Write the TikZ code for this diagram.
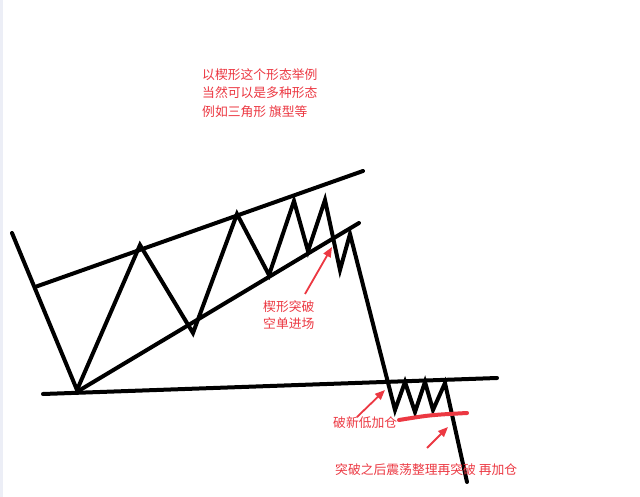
\documentclass[tikz,border=0pt]{standalone}
\usepackage{fontspec}
\newfontfamily\cjk{Noto Sans CJK SC}
\usetikzlibrary{arrows.meta}
\definecolor{noteRed}{RGB}{236,56,66}
\definecolor{edgeGray}{RGB}{236,238,246}
\tikzset{
  chart/.style={line width=4pt, black, line join=miter, line cap=round},
  note/.style={text=noteRed, font=\cjk\fontsize{12.8}{18.5}\selectfont, inner sep=0pt, anchor=west, align=left},
  pointer/.style={draw=noteRed, line width=1.8pt, -{Triangle[length=10pt,width=8pt]}},
  marker/.style={draw=noteRed, line width=4pt, line cap=round}
}
\begin{document}
\begin{tikzpicture}[x=1pt,y=-1pt]
\useasboundingbox (0,0) rectangle (640,497);
\fill[white] (0,0) rectangle (640,497);
\fill[edgeGray] (0,0) rectangle (3,497);

% price path points
\coordinate (p0) at (12,233);
\coordinate (p1) at (77,390);
\coordinate (p2) at (140,245);
\coordinate (p3) at (193,333);
\coordinate (p4) at (237,214);
\coordinate (p5) at (269,275);
\coordinate (p6) at (294,201);
\coordinate (p7) at (308,251);
\coordinate (p8) at (325,200);
\coordinate (p9) at (340,270);
\coordinate (p10) at (350,234);
\coordinate (p11) at (395,410);
\coordinate (p12) at (405,382);
\coordinate (p13) at (415,412);
\coordinate (p14) at (425,382);
\coordinate (p15) at (433,410);
\coordinate (p16) at (445,383);
\coordinate (p17) at (467,482);

% trend lines
\coordinate (u0) at (35,287);
\coordinate (u1) at (363,171);
\coordinate (l0) at (80,390);
\coordinate (l1) at (359,223);
\coordinate (h0) at (43,394);
\coordinate (h1) at (497,378);

\draw[chart] (u0) -- (u1);
\draw[chart] (l0) -- (l1);
\draw[chart] (h0) -- (h1);
\draw[chart] (p0) -- (p1) -- (p2) -- (p3) -- (p4) -- (p5) -- (p6) -- (p7) -- (p8) -- (p9) -- (p10) -- (p11) -- (p12) -- (p13) -- (p14) -- (p15) -- (p16) -- (p17);

% red marker under consolidation
\coordinate (m0) at (399,420);
\coordinate (m1) at (430,415);
\coordinate (m2) at (467,413);
\draw[marker] (m0) .. controls (m1) .. (m2);

% texts
\node[note] (intro) at (202,93) {以楔形这个形态举例\\当然可以是多种形态\\例如三角形 旗型等};
\node[note, font=\cjk\fontsize{12.8}{16.5}\selectfont] (wedge) at (263,315) {楔形突破\\空单进场};
\node[note] (newlow) at (333,423) {破新低加仓};
\node[note] (again) at (335,470) {突破之后震荡整理再突破 再加仓};

% arrows
\coordinate (a1s) at (305,294);
\coordinate (a1e) at (332,247);
\coordinate (a2s) at (357,417);
\coordinate (a2e) at (385,390);
\coordinate (a3s) at (427,448);
\coordinate (a3e) at (448,427);
\draw[pointer] (a1s) -- (a1e);
\draw[pointer] (a2s) -- (a2e);
\draw[pointer] (a3s) -- (a3e);
\end{tikzpicture}
\end{document}
